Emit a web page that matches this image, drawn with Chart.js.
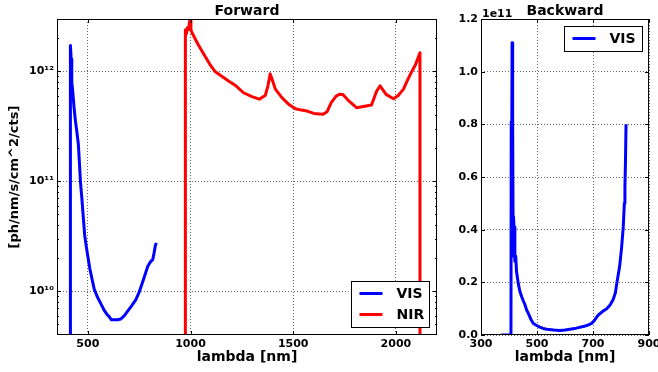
<!DOCTYPE html>
<html>
<head>
<meta charset="utf-8">
<script src="https://cdn.jsdelivr.net/npm/chart.js@4.4.1/dist/chart.umd.min.js"></script>
<style>
  html, body { margin: 0; padding: 0; background: #fff; }
  #wrap { position: relative; width: 658px; height: 372px; overflow: hidden; }
  #fwd { position: absolute; left: 0; top: 0; }
  #back { position: absolute; left: 440px; top: 0; }
</style>
</head>
<body>
<div id="wrap">
  <canvas id="fwd" width="440" height="372"></canvas>
  <canvas id="back" width="218" height="372"></canvas>
</div>
<script>
// Forward, VIS arm (wavelength nm / ph/nm/s/cm^2/cts)
const fwdVisWl = [414, 414, 415, 417, 419, 421, 423, 427, 433, 440, 447, 454, 459, 464, 471, 478, 485, 492, 500, 510, 521, 531, 545, 562, 580, 595, 603, 615, 628, 645, 661, 678, 694, 714, 734, 748, 759, 775, 792, 805, 816, 822, 828, 833];
const fwdVisVal = [0, 1.3e12, 1.45e12, 1.72e12, 1.3e12, 1.1e12, 8e11, 6.5e11, 4.7e11, 3.5e11, 2.8e11, 2.17e11, 1.5e11, 1.0e11, 7e10, 4.7e10, 3.2e10, 2.6e10, 2.08e10, 1.6e10, 1.28e10, 1.05e10, 9e9, 7.8e9, 6.7e9, 6.1e9, 5.9e9, 5.5e9, 5.5e9, 5.5e9, 5.6e9, 6.0e9, 6.6e9, 7.4e9, 8.4e9, 9.6e9, 1.1e10, 1.35e10, 1.69e10, 1.85e10, 1.94e10, 2.2e10, 2.56e10, 2.76e10];

// Forward, NIR arm
const fwdNirWl = [975, 975, 980, 985, 990, 996, 999, 1002, 1008, 1037, 1070, 1094, 1119, 1152, 1185, 1217, 1258, 1299, 1335, 1364, 1377, 1388, 1400, 1413, 1446, 1479, 1511, 1540, 1568, 1600, 1644, 1665, 1685, 1709, 1725, 1742, 1772, 1808, 1841, 1881, 1906, 1923, 1952, 1988, 2010, 2037, 2052, 2070, 2095, 2117, 2117];
const fwdNirVal = [0, 2.4e12, 2.2e12, 2.5e12, 2.4e12, 2.87e12, 3.5e12, 2.4e12, 2.24e12, 1.76e12, 1.38e12, 1.16e12, 1.0e12, 9.06e11, 8.2e11, 7.5e11, 6.4e11, 5.9e11, 5.6e11, 6.05e11, 7.4e11, 9.5e11, 8.2e11, 6.9e11, 5.75e11, 5.0e11, 4.58e11, 4.45e11, 4.36e11, 4.15e11, 4.07e11, 4.3e11, 5.2e11, 5.96e11, 6.2e11, 6.18e11, 5.36e11, 4.68e11, 4.8e11, 4.95e11, 6.6e11, 7.4e11, 6.18e11, 5.65e11, 6.0e11, 6.9e11, 8.0e11, 9.4e11, 1.15e12, 1.48e12, 0];

// Backward, VIS arm (values in units of 1e11)
const backVisWl = [372, 407, 408, 409, 410, 411, 412, 413, 414, 415, 416, 418, 421, 424, 427, 433, 439, 445, 451, 457, 463, 469, 478, 487, 499, 510, 522, 535, 560, 582, 600, 618, 640, 665, 680, 695, 705, 713, 719, 735, 749, 761, 772, 780, 785, 795, 802, 808, 812, 814, 816, 818];
const backVisVal = [0, 0, 0.81, 0.35, 0.6, 1.11, 0.9, 0.5, 0.83, 0.3, 0.45, 0.41, 0.28, 0.3, 0.24, 0.196, 0.165, 0.146, 0.13, 0.115, 0.095, 0.082, 0.06, 0.044, 0.036, 0.03, 0.025, 0.022, 0.019, 0.017, 0.019, 0.022, 0.026, 0.032, 0.037, 0.044, 0.055, 0.068, 0.076, 0.09, 0.10, 0.114, 0.135, 0.16, 0.196, 0.26, 0.33, 0.41, 0.5, 0.56, 0.66, 0.8];

// ticks
const fwdXTicks = [500, 1000, 1500, 2000];
const fwdXTickLabels = ['500', '1000', '1500', '2000'];
const fwdYTicks = [1e10, 1e11, 1e12];
const fwdYTickLabels = ['10\u00b9\u2070', '10\u00b9\u00b9', '10\u00b9\u00b2'];
const fwdYMinor = [5e9, 6e9, 7e9, 8e9, 9e9, 2e10, 3e10, 4e10, 5e10, 6e10, 7e10, 8e10, 9e10, 2e11, 3e11, 4e11, 5e11, 6e11, 7e11, 8e11, 9e11, 2e12, 3e12];
const backXTicks = [300, 500, 700, 900];
const backXTickLabels = ['300', '500', '700', '900'];
const backYTicks = [0, 0.2, 0.4, 0.6, 0.8, 1.0, 1.2];
const backYTickLabels = ['0.0', '0.2', '0.4', '0.6', '0.8', '1.0', '1.2'];

const FONT = '"DejaVu Sans", "Liberation Sans", sans-serif';
const LOG_FLOOR = 1; // non-positive values drop off the bottom of the log axis, like matplotlib

function toPoints(xs, ys, floor) {
    return xs.map((x, i) => ({x: x, y: floor ? Math.max(ys[i], floor) : ys[i]}));
}

// matplotlib-ish decorations: inward ticks, full frame, legend box, offset text
const mplStyle = {
    id: 'mplStyle',
    afterDraw(chart, args, opts) {
        const ctx = chart.ctx;
        const a = chart.chartArea;
        const xs = chart.scales.x, ys = chart.scales.y;
        ctx.save();
        ctx.strokeStyle = '#000';
        ctx.lineWidth = 1;
        ctx.beginPath();
        xs.ticks.forEach(t => {
            const x = Math.round(xs.getPixelForValue(t.value)) + 0.5;
            ctx.moveTo(x, a.bottom); ctx.lineTo(x, a.bottom - 4);
            ctx.moveTo(x, a.top); ctx.lineTo(x, a.top + 4);
        });
        ys.ticks.forEach(t => {
            const y = Math.round(ys.getPixelForValue(t.value)) + 0.5;
            ctx.moveTo(a.left, y); ctx.lineTo(a.left + 4, y);
            ctx.moveTo(a.right, y); ctx.lineTo(a.right - 4, y);
        });
        (opts.minorY || []).forEach(v => {
            const y = Math.round(ys.getPixelForValue(v)) + 0.5;
            ctx.moveTo(a.left, y); ctx.lineTo(a.left + 2, y);
            ctx.moveTo(a.right, y); ctx.lineTo(a.right - 2, y);
        });
        ctx.stroke();
        ctx.strokeRect(a.left + 0.5, a.top + 0.5, a.right - a.left - 1, a.bottom - a.top - 1);

        if (opts.offsetText) {
            ctx.fillStyle = '#000';
            ctx.font = 'bold 11px ' + FONT;
            ctx.textAlign = 'left';
            ctx.textBaseline = 'alphabetic';
            ctx.fillText(opts.offsetText, a.left + 1, a.top - 2);
        }

        if (opts.legend) {
            const L = opts.legend;
            const sets = chart.data.datasets;
            const w = 78, h = 21 * sets.length + 4;
            const bx = Math.round(a.right - L.inset - w) + 0.5;
            const by = Math.round(L.corner === 'tr' ? a.top + L.inset : a.bottom - L.inset - h) + 0.5;
            ctx.fillStyle = '#fff';
            ctx.fillRect(bx, by, w, h);
            ctx.strokeStyle = '#000';
            ctx.strokeRect(bx, by, w, h);
            ctx.font = 'bold 14px ' + FONT;
            ctx.textAlign = 'left';
            ctx.textBaseline = 'middle';
            sets.forEach((ds, i) => {
                const cy = by + 12 + 21 * i;
                ctx.strokeStyle = ds.borderColor;
                ctx.lineWidth = 3;
                ctx.beginPath();
                ctx.moveTo(bx + 8, cy); ctx.lineTo(bx + 31, cy);
                ctx.stroke();
                ctx.fillStyle = '#000';
                ctx.fillText(ds.label, bx + 45, cy + 1);
            });
        }
        ctx.restore();
    }
};

function lineSet(label, color, data) {
    return {
        label: label, data: data, borderColor: color, backgroundColor: color,
        borderWidth: 3, pointRadius: 0, tension: 0, fill: false,
        borderJoinStyle: 'round', clip: 0
    };
}

function axisCommon(labels, extra) {
    return Object.assign({
        grid: {color: 'rgba(0,0,0,0.6)', lineWidth: 1, drawTicks: false},
        border: {display: false, dash: [1, 2]},
        ticks: {
            color: '#000', font: {family: FONT, size: 11, weight: 'bold'},
            autoSkip: false, maxRotation: 0,
            callback: (v, i) => labels[i]
        }
    }, extra);
}

function noPad(s) {
    s.paddingLeft = 0; s.paddingRight = 0; s.paddingTop = 0; s.paddingBottom = 0;
}

const titleFont = {family: FONT, size: 14, weight: 'bold', lineHeight: 1.143};
const ylabelFont = {family: FONT, size: 13, weight: 'bold', lineHeight: 1.2};

new Chart(document.getElementById('fwd'), {
    type: 'line',
    data: {
        datasets: [
            lineSet('VIS', '#0000ff', toPoints(fwdVisWl, fwdVisVal, LOG_FLOOR)),
            lineSet('NIR', '#ff0000', toPoints(fwdNirWl, fwdNirVal, LOG_FLOOR))
        ]
    },
    options: {
        responsive: false,
        animation: false,
        layout: {padding: {left: 0, right: 3, top: 0, bottom: 0}},
        plugins: {
            legend: {display: false},
            tooltip: {enabled: false},
            title: {display: true, text: 'Forward', color: '#000', fullSize: false, font: titleFont, padding: {top: 3, bottom: 0}},
            mplStyle: {minorY: fwdYMinor, legend: {corner: 'br', inset: 8}}
        },
        scales: {
            x: axisCommon(fwdXTickLabels, {
                type: 'linear', min: 350, max: 2200,
                afterBuildTicks: s => { s.ticks = fwdXTicks.map(v => ({value: v})); },
                afterFit: s => { s.height = 37; noPad(s); },
                title: {display: true, text: 'lambda [nm]', color: '#000', font: titleFont, padding: {top: 0, bottom: 7}}
            }),
            y: axisCommon(fwdYTickLabels, {
                type: 'logarithmic', min: 4e9, max: 3e12,
                afterBuildTicks: s => { s.ticks = fwdYTicks.map(v => ({value: v})); },
                afterFit: s => { s.width = 57; noPad(s); },
                title: {display: true, text: '[ph/nm/s/cm^2/cts]', color: '#000', font: ylabelFont, padding: {top: 7, bottom: 0}}
            })
        }
    },
    plugins: [mplStyle]
});

new Chart(document.getElementById('back'), {
    type: 'line',
    data: {
        datasets: [
            lineSet('VIS', '#0000ff', toPoints(backVisWl, backVisVal))
        ]
    },
    options: {
        responsive: false,
        animation: false,
        layout: {padding: {left: 0, right: 9, top: 0, bottom: 0}},
        plugins: {
            legend: {display: false},
            tooltip: {enabled: false},
            title: {display: true, text: 'Backward', color: '#000', fullSize: false, font: titleFont, padding: {top: 3, bottom: 0}},
            mplStyle: {offsetText: '1e11', legend: {corner: 'tr', inset: 7}}
        },
        scales: {
            x: axisCommon(backXTickLabels, {
                type: 'linear', min: 300, max: 900,
                afterBuildTicks: s => { s.ticks = backXTicks.map(v => ({value: v})); },
                afterFit: s => { s.height = 37; noPad(s); },
                title: {display: true, text: 'lambda [nm]', color: '#000', font: titleFont, padding: {top: 0, bottom: 7}}
            }),
            y: axisCommon(backYTickLabels, {
                type: 'linear', min: 0, max: 1.2,
                afterBuildTicks: s => { s.ticks = backYTicks.map(v => ({value: v})); },
                afterFit: s => { s.width = 41; noPad(s); }
            })
        }
    },
    plugins: [mplStyle]
});
</script>
</body>
</html>
